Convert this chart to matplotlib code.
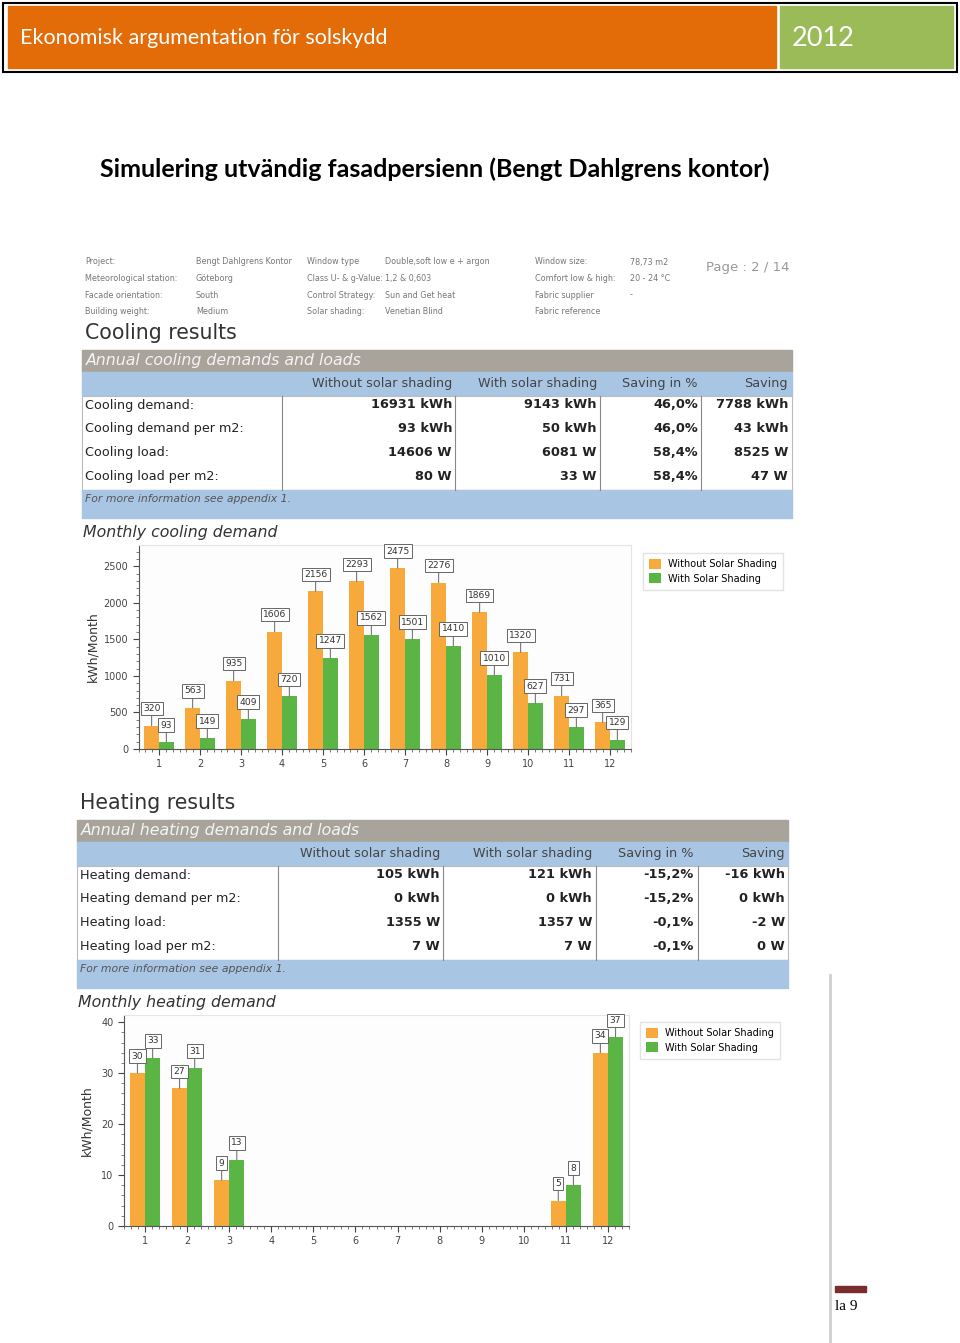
import matplotlib
matplotlib.use("Agg")
import matplotlib.pyplot as plt
import numpy as np
from matplotlib.patches import Rectangle
from matplotlib.ticker import MultipleLocator, AutoMinorLocator

W, H = 960, 1343

# ---- data ----
months = np.arange(1, 13)
cool_without = [320, 563, 935, 1606, 2156, 2293, 2475, 2276, 1869, 1320, 731, 365]
cool_with = [93, 149, 409, 720, 1247, 1562, 1501, 1410, 1010, 627, 297, 129]
heat_without = [30, 27, 9, 0, 0, 0, 0, 0, 0, 0, 5, 34]
heat_with = [33, 31, 13, 0, 0, 0, 0, 0, 0, 0, 8, 37]

table_cols = ["Without solar shading", "With solar shading", "Saving in %", "Saving"]
cool_rows = ["Cooling demand:", "Cooling demand per m2:", "Cooling load:", "Cooling load per m2:"]
cool_tbl = [["16931 kWh", "9143 kWh", "46,0%", "7788 kWh"],
            ["93 kWh", "50 kWh", "46,0%", "43 kWh"],
            ["14606 W", "6081 W", "58,4%", "8525 W"],
            ["80 W", "33 W", "58,4%", "47 W"]]
heat_rows = ["Heating demand:", "Heating demand per m2:", "Heating load:", "Heating load per m2:"]
heat_tbl = [["105 kWh", "121 kWh", "-15,2%", "-16 kWh"],
            ["0 kWh", "0 kWh", "-15,2%", "0 kWh"],
            ["1355 W", "1357 W", "-0,1%", "-2 W"],
            ["7 W", "7 W", "-0,1%", "0 W"]]

info = [["Project:", "Bengt Dahlgrens Kontor", "Window type", "Double,soft low e + argon", "Window size:", "78,73 m2"],
        ["Meteorological station:", "Göteborg", "Class U- & g-Value:", "1,2 & 0,603", "Comfort low & high:", "20 - 24 °C"],
        ["Facade orientation:", "South", "Control Strategy:", "Sun and Get heat", "Fabric supplier", "-"],
        ["Building weight:", "Medium", "Solar shading:", "Venetian Blind", "Fabric reference", ""]]

ORANGE = "#f7a93c"
GREEN = "#5ab545"
BAND = "#a8a39b"
BLUE = "#a9c5e4"

fig = plt.figure(figsize=(W / 100, H / 100), dpi=100)
bg = fig.add_axes([0, 0, 1, 1])
bg.set_xlim(0, W)
bg.set_ylim(H, 0)
bg.axis("off")

# ---- page header ----
bg.add_patch(Rectangle((3, 3), 954, 69, fill=False, ec="black", lw=1.5))
bg.add_patch(Rectangle((8, 6), 768, 62, color="#e36c09"))
bg.add_patch(Rectangle((780, 6), 173, 62, color="#9bbb59"))
bg.text(20, 38, "Ekonomisk argumentation för solskydd", color="white",
        fontsize=15.5, family="Lato", va="center")
bg.text(792, 39, "2012", color="white", fontsize=19.5, family="Lato", va="center")

bg.text(435, 169, "Simulering utvändig fasadpersienn (Bengt Dahlgrens kontor)",
        fontsize=18, family="Lato", weight="bold", ha="center", va="center")

# ---- report info block ----
info_x = [85, 196, 307, 385, 535, 630]
for i, row in enumerate(info):
    for j, txt in enumerate(row):
        bg.text(info_x[j], 262 + i * 16.5, txt, fontsize=5.8, color="#777", va="center")
bg.text(706, 268, "Page : 2 / 14", fontsize=9.5, color="#999", va="center")


def draw_table(x0, x1, top, title, rows, vals, col_right, vlines, foot):
    bg.add_patch(Rectangle((x0, top), x1 - x0, 22, color=BAND))
    bg.text(x0 + 4, top + 11, title, fontsize=11.3, style="italic", color="#f4f4f4", va="center")
    bg.add_patch(Rectangle((x0, top + 22), x1 - x0, 24, color=BLUE))
    for c, name in enumerate(table_cols):
        bg.text(col_right[c], top + 34, name, fontsize=9.2, color="#444", ha="right", va="center")
    bg.add_patch(Rectangle((x0, top + 46), x1 - x0, 94, fc="white", ec="#bbb", lw=0.8))
    for vx in vlines:
        bg.plot([vx, vx], [top + 46, top + 140], color="#888", lw=0.8)
    for r, lab in enumerate(rows):
        y = top + 55 + r * 23.7
        bg.text(x0 + 3, y, lab, fontsize=9.2, color="#222", va="center")
        for c, v in enumerate(vals[r]):
            bg.text(col_right[c], y, v, fontsize=9.3, weight="bold", color="#222",
                    ha="right", va="center")
    bg.add_patch(Rectangle((x0, top + 140), x1 - x0, 28, color=BLUE))
    bg.text(x0 + 3, top + 149, foot, fontsize=7.8, style="italic", color="#555", va="center")


bg.text(85, 333, "Cooling results", fontsize=14.8, color="#333", va="center")
draw_table(82, 792, 350, "Annual cooling demands and loads", cool_rows, cool_tbl,
           [452, 597, 698, 788], [282, 455, 600, 701], "For more information see appendix 1.")

bg.text(80, 803, "Heating results", fontsize=14.8, color="#333", va="center")
draw_table(77, 788, 820, "Annual heating demands and loads", heat_rows, heat_tbl,
           [440, 592, 694, 785], [278, 443, 596, 698], "For more information see appendix 1.")


def px_axes(x0, y0, x1, y1):
    return fig.add_axes([x0 / W, 1 - y1 / H, (x1 - x0) / W, (y1 - y0) / H])


def bar_chart(ax, without, with_, ymax, ystep, yminor):
    ax.bar(months - 0.18, without, width=0.36, color=ORANGE, label="Without Solar Shading")
    ax.bar(months + 0.18, with_, width=0.36, color=GREEN, label="With Solar Shading")
    for xs, vals in ((months - 0.18, without), (months + 0.18, with_)):
        for x, v in zip(xs, vals):
            if v == 0:
                continue
            ax.annotate(str(v), (x, v), xytext=(0, 17), textcoords="offset pixels",
                        ha="center", va="center", fontsize=6.6, color="#333",
                        bbox=dict(boxstyle="square,pad=0.25", fc="white", ec="#666", lw=0.7),
                        arrowprops=dict(arrowstyle="-", color="#777", lw=0.8,
                                        shrinkA=0, shrinkB=0))
    ax.set_xlim(0.5, 12.5)
    ax.set_ylim(0, ymax)
    ax.set_xticks(months)
    ax.yaxis.set_major_locator(MultipleLocator(ystep))
    ax.yaxis.set_minor_locator(MultipleLocator(yminor))
    ax.xaxis.set_minor_locator(AutoMinorLocator(6))
    ax.tick_params(labelsize=7, colors="#444", length=4, width=0.8)
    ax.tick_params(which="minor", length=2, width=0.6, colors="#666")
    for s in ("top", "right"):
        ax.spines[s].set_color("#e4e4e4")
    for s in ("left", "bottom"):
        ax.spines[s].set_color("#555")
    ax.set_ylabel("kWh/Month", fontsize=9, color="#333")
    ax.set_facecolor("#fdfdfd")


legend_kw = dict(loc="upper left", bbox_transform=fig.transFigure, fontsize=7, frameon=True,
                 edgecolor="#ddd", fancybox=False, handlelength=1.2, handleheight=1.2,
                 borderpad=0.6, labelspacing=0.45, borderaxespad=0)

# ---- cooling chart ----
bg.text(83, 532, "Monthly cooling demand", fontsize=11.3, style="italic", color="#333", va="center")
axc = px_axes(138.5, 545, 630.5, 749)
bar_chart(axc, cool_without, cool_with, 2790, 500, 100)
axc.yaxis.set_label_coords(-0.08, 0.5)
axc.legend(bbox_to_anchor=(643 / W, 1 - 553 / H), **legend_kw)

# ---- heating chart ----
bg.text(78, 1003, "Monthly heating demand", fontsize=11.3, style="italic", color="#333", va="center")
axh = px_axes(124, 1015, 629, 1226)
bar_chart(axh, heat_without, heat_with, 41.4, 10, 2)
axh.yaxis.set_label_coords(-0.06, 0.5)
axh.legend(bbox_to_anchor=(640 / W, 1 - 1022 / H), **legend_kw)

# ---- page footer ----
bg.plot([830, 830], [975, 1343], color="#cfcfcf", lw=2)
bg.add_patch(Rectangle((835, 1286), 31, 6, color="#7b2c2c"))
bg.text(835, 1307, "la 9", fontsize=11, family="Liberation Serif", va="center")

fig.savefig("out.png", dpi=100)
